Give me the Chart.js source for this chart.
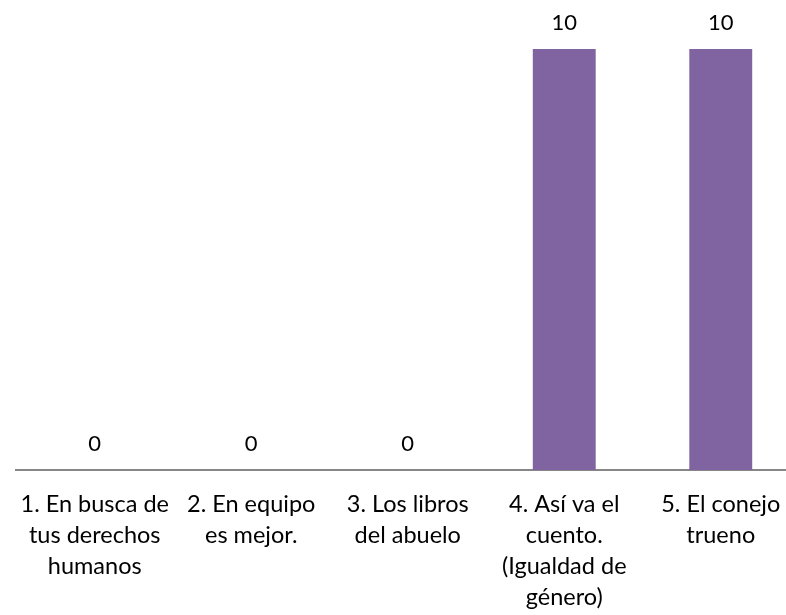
<!DOCTYPE html>
<html>
<head>
<meta charset="utf-8">
<script src="https://cdn.jsdelivr.net/npm/chart.js@4"></script>
<style>
  html, body { margin: 0; padding: 0; background: #fff; overflow: hidden; width: 786px; height: 615px; }
  canvas { display: block; }
</style>
</head>
<body>
<canvas id="c" width="800" height="615"></canvas>
<script>
// Story titles (one array entry per wrapped line)
const categories = [
  ["1. En busca de", "tus derechos", "humanos"],
  ["2. En equipo", "es mejor."],
  ["3. Los libros", "del abuelo"],
  ["4. Así va el", "cuento.", "(Igualdad de", "género)"],
  ["5. El conejo", "trueno"]
];
const values = [0, 0, 0, 10, 10];

const FONT = "Lato, 'Open Sans', sans-serif";

// Draws each bar's value just above its top
const valueLabels = {
  id: 'valueLabels',
  afterDatasetsDraw(chart) {
    const ctx = chart.ctx;
    const meta = chart.getDatasetMeta(0);
    ctx.save();
    ctx.font = "22px " + FONT;
    ctx.fillStyle = "#000";
    ctx.textAlign = "center";
    ctx.textBaseline = "middle";
    meta.data.forEach((bar, i) => {
      ctx.fillText(String(values[i]), bar.x, bar.y - 26);
    });
    ctx.restore();
  }
};

new Chart(document.getElementById('c'), {
  type: 'bar',
  data: {
    labels: categories,
    datasets: [{
      data: values,
      backgroundColor: '#8064A2',
      borderWidth: 0,
      categoryPercentage: 1,
      barPercentage: 0.402
    }]
  },
  options: {
    responsive: false,
    animation: false,
    layout: { padding: { left: 15, right: 1, top: 49, bottom: 0 } },
    plugins: { legend: { display: false }, tooltip: { enabled: false } },
    scales: {
      x: {
        grid: { display: false, drawTicks: false },
        border: { display: true, color: '#868686', width: 2 },
        ticks: {
          color: '#000',
          font: { family: FONT, size: 23.5, lineHeight: '31px' },
          padding: 19,
          maxRotation: 0,
          autoSkip: false
        },
        afterFit(scale) { scale.height = 145; }
      },
      y: {
        display: false,
        min: 0,
        max: 10
      }
    }
  },
  plugins: [valueLabels]
});
</script>
</body>
</html>
